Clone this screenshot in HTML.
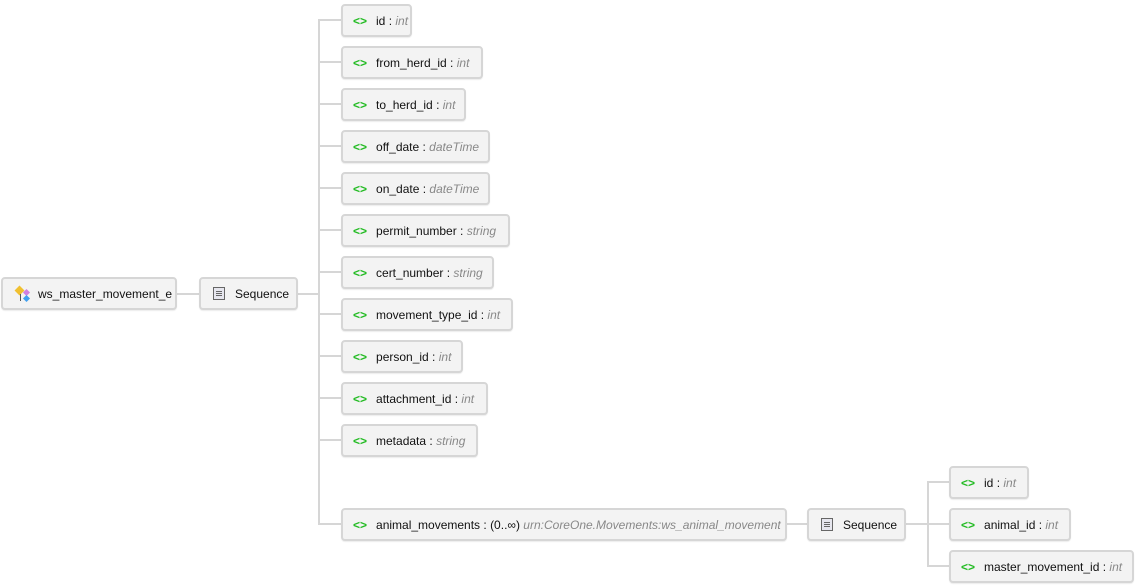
<!DOCTYPE html>
<html><head><meta charset="utf-8"><style>
body{margin:0;width:1135px;height:588px;background:#fff;position:relative;overflow:hidden;font-family:"Liberation Sans","DejaVu Sans",sans-serif;font-size:12px;color:#111}
.b{position:absolute;height:29px;background:#f3f3f3;border:2px solid #d6d6d6;border-radius:4px;box-sizing:content-box;white-space:nowrap;line-height:31px;overflow:hidden;box-shadow:0 1px 1px rgba(0,0,0,0.08)}
.e{padding-left:10px}
.g{color:#22bb22;font-weight:bold;font-size:12px;margin-right:9px}
.t{color:#888;font-style:italic}
.h{position:absolute;height:2px;background:#d6d6d6}
.v{position:absolute;width:2px;background:#d6d6d6}
.seq{display:inline-block;width:10px;height:11px;border:1px solid #666;background:#e6e6ee;vertical-align:-2px;margin:0 10px 0 12px;position:relative}
.seq:before{content:"";position:absolute;left:2px;right:2px;top:3px;height:1px;background:#666;box-shadow:0 2px 0 #666,0 4px 0 #666}
</style></head><body>
<div class="h" style="left:177px;top:293px;width:22px"></div>
<div class="h" style="left:298px;top:293px;width:21px"></div>
<div class="v" style="left:318px;top:19px;height:506px"></div>
<div class="h" style="left:318px;top:19px;width:23px"></div>
<div class="h" style="left:318px;top:61px;width:23px"></div>
<div class="h" style="left:318px;top:103px;width:23px"></div>
<div class="h" style="left:318px;top:145px;width:23px"></div>
<div class="h" style="left:318px;top:187px;width:23px"></div>
<div class="h" style="left:318px;top:229px;width:23px"></div>
<div class="h" style="left:318px;top:271px;width:23px"></div>
<div class="h" style="left:318px;top:313px;width:23px"></div>
<div class="h" style="left:318px;top:355px;width:23px"></div>
<div class="h" style="left:318px;top:397px;width:23px"></div>
<div class="h" style="left:318px;top:439px;width:23px"></div>
<div class="h" style="left:318px;top:523px;width:23px"></div>
<div class="h" style="left:787px;top:523px;width:20px"></div>
<div class="h" style="left:906px;top:523px;width:22px"></div>
<div class="v" style="left:927px;top:481px;height:86px"></div>
<div class="h" style="left:927px;top:481px;width:22px"></div>
<div class="h" style="left:927px;top:523px;width:22px"></div>
<div class="h" style="left:927px;top:565px;width:22px"></div>

<div class="b" style="left:1px;top:277px;width:172px"><span style="position:absolute;left:12px;top:8px;width:18px;height:16px">
<span style="position:absolute;left:1px;top:0;width:7px;height:7px;background:#f0c030;transform:rotate(45deg)"></span>
<span style="position:absolute;left:9px;top:3px;width:5px;height:5px;background:#d080e0;transform:rotate(45deg)"></span>
<span style="position:absolute;left:9px;top:9px;width:5px;height:5px;background:#40a0f0;transform:rotate(45deg)"></span>
<span style="position:absolute;left:5px;top:7px;width:1px;height:7px;background:#555"></span></span>
<span style="position:absolute;left:35px">ws_master_movement_e</span></div>
<div class="b" style="left:199px;top:277px;width:95px"><span class="seq"></span>Sequence</div>

<div class="b e" style="left:341px;top:4px;width:57px"><span class="g">&lt;&gt;</span>id : <span class="t">int</span></div>
<div class="b e" style="left:341px;top:46px;width:128px"><span class="g">&lt;&gt;</span>from_herd_id : <span class="t">int</span></div>
<div class="b e" style="left:341px;top:88px;width:111px"><span class="g">&lt;&gt;</span>to_herd_id : <span class="t">int</span></div>
<div class="b e" style="left:341px;top:130px;width:135px"><span class="g">&lt;&gt;</span>off_date : <span class="t">dateTime</span></div>
<div class="b e" style="left:341px;top:172px;width:135px"><span class="g">&lt;&gt;</span>on_date : <span class="t">dateTime</span></div>
<div class="b e" style="left:341px;top:214px;width:155px"><span class="g">&lt;&gt;</span>permit_number : <span class="t">string</span></div>
<div class="b e" style="left:341px;top:256px;width:139px"><span class="g">&lt;&gt;</span>cert_number : <span class="t">string</span></div>
<div class="b e" style="left:341px;top:298px;width:158px"><span class="g">&lt;&gt;</span>movement_type_id : <span class="t">int</span></div>
<div class="b e" style="left:341px;top:340px;width:108px"><span class="g">&lt;&gt;</span>person_id : <span class="t">int</span></div>
<div class="b e" style="left:341px;top:382px;width:133px"><span class="g">&lt;&gt;</span>attachment_id : <span class="t">int</span></div>
<div class="b e" style="left:341px;top:424px;width:123px"><span class="g">&lt;&gt;</span>metadata : <span class="t">string</span></div>
<div class="b e" style="left:341px;top:508px;width:432px"><span class="g">&lt;&gt;</span>animal_movements : (0..∞) <span class="t">urn:CoreOne.Movements:ws_animal_movement</span></div>
<div class="b" style="left:807px;top:508px;width:95px"><span class="seq"></span>Sequence</div>
<div class="b e" style="left:949px;top:466px;width:66px"><span class="g">&lt;&gt;</span>id : <span class="t">int</span></div>
<div class="b e" style="left:949px;top:508px;width:108px"><span class="g">&lt;&gt;</span>animal_id : <span class="t">int</span></div>
<div class="b e" style="left:949px;top:550px;width:171px"><span class="g">&lt;&gt;</span>master_movement_id : <span class="t">int</span></div>
</body></html>
